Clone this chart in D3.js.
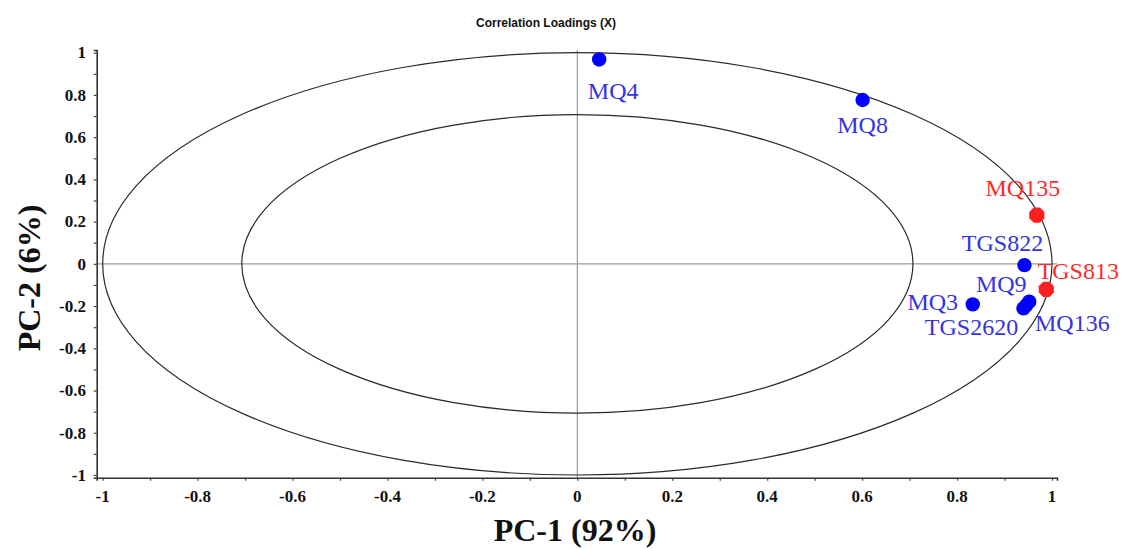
<!DOCTYPE html>
<html>
<head>
<meta charset="utf-8">
<script src="https://cdn.jsdelivr.net/npm/d3@7"></script>
<style>
  html, body { margin: 0; padding: 0; background: #fff; }
  svg { display: block; }
</style>
</head>
<body>
<svg id="chart" width="1121" height="549"></svg>
<script>
// ---- data ----
const sensors = ["MQ4", "MQ8", "MQ135", "TGS822", "TGS813", "MQ9", "MQ3", "MQ136", "TGS2620"];
const pc1     = [0.046, 0.601, 0.968, 0.942, 0.988, 0.952, 0.833, 0.946, 0.940];
const pc2     = [0.968, 0.776, 0.231, -0.006, -0.121, -0.179, -0.192, -0.196, -0.211];
const groups  = ["b", "b", "r", "b", "r", "b", "b", "b", "b"];
const ellipseRadii = [1.0, 0.707];
const majorTicks = [-1, -0.8, -0.6, -0.4, -0.2, 0, 0.2, 0.4, 0.6, 0.8, 1];
const minorTicks = d3.range(-10, 11).map(i => i / 10);
const titleText = "Correlation Loadings (X)";
const xTitle = "PC-1 (92%)";
const yTitle = "PC-2 (6%)";

// ---- layout / style (not data) ----
const labelOffsets = {
  "MQ4": [14, 40], "MQ8": [0, 33], "MQ135": [-14, -19], "TGS822": [-22, -14],
  "TGS813": [32, -10], "MQ9": [-28, -10], "MQ3": [-40, 6], "MQ136": [46, 26],
  "TGS2620": [-52, 27]
};
const pointColor = { b: "#0000ff", r: "#ff1f1f" };
const labelColor = { b: "#3434e0", r: "#ff2a2a" };
const serif = "'Liberation Serif', 'Times New Roman', serif";

const svg = d3.select("#chart");

// scales: -1 -> 102.7, 1 -> 1052 ; axis line extends slightly past
const x = d3.scaleLinear().domain([-1, 1]).range([102.7, 1052]);
const y = d3.scaleLinear().domain([-1, 1]).range([475, 52.7]);
const xMin = x.invert(96.7), xMax = x.invert(1057);
const yMin = y.invert(477.7), yMax = y.invert(50);
const xA = d3.scaleLinear().domain([xMin, xMax]).range([x(xMin), x(xMax)]);
const yA = d3.scaleLinear().domain([yMin, yMax]).range([y(yMin), y(yMax)]);

// title
svg.append("text")
  .attr("x", 546).attr("y", 27)
  .attr("text-anchor", "middle")
  .style("font-family", "'Liberation Sans', Arial, sans-serif")
  .style("font-weight", "bold")
  .style("font-size", "12px")
  .style("fill", "#111")
  .text(titleText);

// center cross lines
svg.append("line")
  .attr("x1", x(xMin)).attr("x2", x(xMax))
  .attr("y1", y(0)).attr("y2", y(0))
  .attr("stroke", "#9a9a9a").attr("stroke-width", 1.2);
svg.append("line")
  .attr("x1", x(0)).attr("x2", x(0))
  .attr("y1", y(yMin)).attr("y2", y(yMax))
  .attr("stroke", "#9a9a9a").attr("stroke-width", 1.2);

// ellipses
svg.selectAll("ellipse.ring").data(ellipseRadii).join("ellipse")
  .attr("class", "ring")
  .attr("cx", x(0)).attr("cy", y(0))
  .attr("rx", d => x(d) - x(0))
  .attr("ry", d => y(0) - y(d))
  .attr("fill", "none")
  .attr("stroke", "#2a2a2a")
  .attr("stroke-width", 1.2);

// axes
const xAxis = d3.axisBottom(xA).tickValues(minorTicks).tickSize(3).tickFormat("");
const gx = svg.append("g").attr("transform", `translate(0,${y(yMin)})`).call(xAxis);
const yAxis = d3.axisLeft(yA).tickValues(minorTicks).tickSize(3).tickFormat("");
const gy = svg.append("g").attr("transform", `translate(${x(xMin)},0)`).call(yAxis);
[gx, gy].forEach(g => {
  g.select(".domain").attr("stroke", "#333").attr("stroke-width", 1.6);
  g.selectAll(".tick line").attr("stroke", "#444").attr("stroke-width", 1.2);
});

// tick labels (hyphen-minus as in the original)
const fmt = d => String(d);
svg.selectAll("text.xt").data(majorTicks).join("text")
  .attr("class", "xt")
  .attr("x", d => x(d)).attr("y", 502)
  .attr("text-anchor", "middle")
  .style("font-family", serif)
  .style("font-weight", "bold")
  .style("font-size", "17px")
  .style("fill", "#111")
  .text(fmt);
svg.selectAll("text.yt").data(majorTicks).join("text")
  .attr("class", "yt")
  .attr("x", 86).attr("y", d => y(d))
  .attr("dy", "0.34em")
  .attr("text-anchor", "end")
  .style("font-family", serif)
  .style("font-weight", "bold")
  .style("font-size", "17px")
  .style("fill", "#111")
  .text(fmt);

// axis titles
svg.append("text")
  .attr("x", 575).attr("y", 541)
  .attr("text-anchor", "middle")
  .style("font-family", serif)
  .style("font-weight", "bold")
  .style("font-size", "32px")
  .style("fill", "#111")
  .text(xTitle);
svg.append("text")
  .attr("transform", "translate(40,278) rotate(-90)")
  .attr("text-anchor", "middle")
  .style("font-family", serif)
  .style("font-weight", "bold")
  .style("font-size", "32px")
  .style("fill", "#111")
  .text(yTitle);

// points
const pts = sensors.map((s, i) => ({ name: s, x: pc1[i], y: pc2[i], g: groups[i] }));
const octagon = r => {
  const p = d3.range(8).map(k => {
    const a = Math.PI / 8 + k * Math.PI / 4;
    return [r * Math.cos(a), r * Math.sin(a)];
  });
  return "M" + p.map(q => q.join(",")).join("L") + "Z";
};
svg.selectAll("path.pt").data(pts.filter(d => d.g === "r")).join("path")
  .attr("class", "pt")
  .attr("transform", d => `translate(${x(d.x)},${y(d.y)})`)
  .attr("d", octagon(8.2))
  .attr("fill", d => pointColor[d.g]);
svg.selectAll("circle.pt").data(pts.filter(d => d.g === "b")).join("circle")
  .attr("class", "pt")
  .attr("cx", d => x(d.x)).attr("cy", d => y(d.y))
  .attr("r", 7.2)
  .attr("fill", d => pointColor[d.g]);

// point labels
svg.selectAll("text.lbl").data(pts).join("text")
  .attr("class", "lbl")
  .attr("x", d => x(d.x) + labelOffsets[d.name][0])
  .attr("y", d => y(d.y) + labelOffsets[d.name][1])
  .attr("text-anchor", "middle")
  .style("font-family", serif)
  .style("font-size", "24px")
  .style("fill", d => labelColor[d.g])
  .text(d => d.name);
</script>
</body>
</html>
